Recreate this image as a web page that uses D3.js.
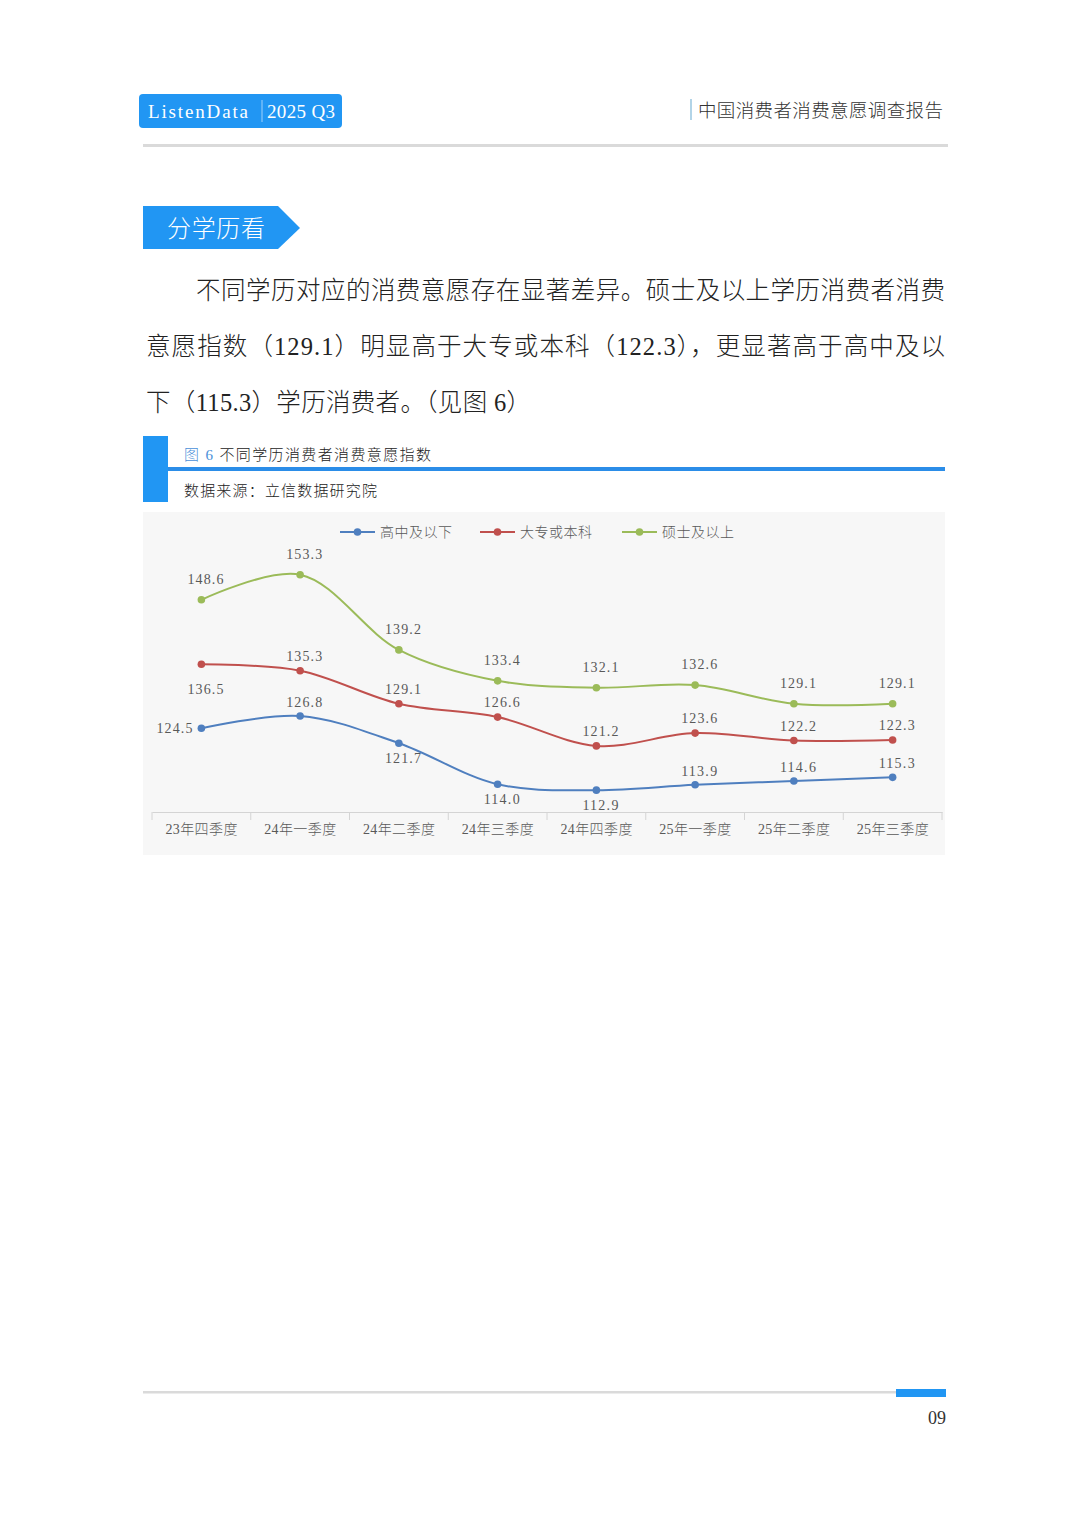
<!DOCTYPE html>
<html><head><meta charset="utf-8">
<script src="https://cdn.jsdelivr.net/npm/d3@7"></script>
<style>
html,body{margin:0;padding:0;background:#fff;}
svg{display:block;}
</style></head>
<body>
<svg id="page" width="1080" height="1527"></svg>
<script>
// ---------- DATA ----------
const categories = ["23年四季度","24年一季度","24年二季度","24年三季度","24年四季度","25年一季度","25年二季度","25年三季度"];
const seriesNames = ["高中及以下","大专或本科","硕士及以上"];
const highSchool = [124.5,126.8,121.7,114.0,112.9,113.9,114.6,115.3];
const college    = [136.5,135.3,129.1,126.6,121.2,123.6,122.2,122.3];
const master     = [148.6,153.3,139.2,133.4,132.1,132.6,129.1,129.1];
const labelPosHigh    = ["left","top","bottom","bottom","bottom","top","top","top"];
const labelPosCollege = ["bottom","top","top","top","top","top","top","top"];
const labelPosMaster  = ["top","top","top","top","top","top","top","top"];
const paragraphLines = [
  "不同学历对应的消费意愿存在显著差异。硕士及以上学历消费者消费",
  "意愿指数（129.1）明显高于大专或本科（122.3），更显著高于高中及以",
  "下（115.3）学历消费者。（见图 6）"
];

const serif = "'Liberation Serif','Noto Sans CJK SC',serif";
const cjk = "'Liberation Serif','Noto Sans CJK SC',sans-serif";
const BLUE = "#2196f3";
const svg = d3.select("#page");

// ---------- HEADER ----------
svg.append("rect").attr("x",139).attr("y",94).attr("width",203).attr("height",34).attr("rx",4).attr("fill",BLUE);
svg.append("text").attr("x",148).attr("y",118).attr("fill","#fff").attr("font-family",serif).attr("font-size",19)
  .attr("textLength",100).attr("lengthAdjust","spacing").text("ListenData");
svg.append("line").attr("x1",262).attr("x2",262).attr("y1",100).attr("y2",122).attr("stroke","#9fd0fb").attr("stroke-width",1);
svg.append("text").attr("x",267).attr("y",118).attr("fill","#fff").attr("font-family",serif).attr("font-size",19)
  .attr("textLength",68).attr("lengthAdjust","spacing").text("2025 Q3");
svg.append("line").attr("x1",691).attr("x2",691).attr("y1",99).attr("y2",120).attr("stroke","#7fb8d8").attr("stroke-width",1.2);
svg.append("text").attr("x",698).attr("y",117).attr("fill","#333").attr("font-family",cjk).attr("font-size",18.5)
  .attr("font-weight",300).attr("textLength",245).attr("lengthAdjust","spacing").text("中国消费者消费意愿调查报告");
svg.append("rect").attr("x",143).attr("y",144).attr("width",805).attr("height",3).attr("fill","#dadada");

// ---------- SECTION TAG ----------
svg.append("polygon").attr("points","143,206 278,206 300,228 278,249 143,249").attr("fill",BLUE);
svg.append("text").attr("x",167).attr("y",237).attr("fill","#fff").attr("font-family",cjk).attr("font-size",24)
  .attr("font-weight",300).attr("textLength",98).attr("lengthAdjust","spacing").text("分学历看");

// ---------- PARAGRAPH ----------
const paraY = [299,355,411];
const paraX = [196,146,146];
const paraW = [749,799,385];
paragraphLines.forEach((t,i)=>{
  svg.append("text").attr("x",paraX[i]).attr("y",paraY[i]).attr("fill","#222").attr("font-family",cjk)
    .attr("font-size",24.5).attr("font-weight",300).attr("textLength",paraW[i]).attr("lengthAdjust","spacing").text(t);
});

// ---------- FIGURE TITLE ----------
svg.append("rect").attr("x",143).attr("y",436).attr("width",25).attr("height",66).attr("fill",BLUE);
svg.append("rect").attr("x",168).attr("y",467).attr("width",777).attr("height",4).attr("fill","#2b8de8");
const ft = svg.append("text").attr("x",184).attr("y",460).attr("font-family",cjk).attr("font-size",15).attr("font-weight",300)
  .attr("textLength",247).attr("lengthAdjust","spacing");
ft.append("tspan").attr("fill","#4a90d9").text("图 6 ");
ft.append("tspan").attr("fill","#222").text("不同学历消费者消费意愿指数");
svg.append("text").attr("x",184).attr("y",496).attr("fill","#222").attr("font-family",cjk).attr("font-size",15)
  .attr("font-weight",300).attr("textLength",193).attr("lengthAdjust","spacing").text("数据来源：立信数据研究院");

// ---------- CHART ----------
svg.append("rect").attr("x",143).attr("y",512).attr("width",802).attr("height",343).attr("fill","#f7f7f7");

const x = d3.scaleBand().domain(categories).range([152,942]);
const y = d3.scaleLinear().domain([108.8,160]).range([812,539]);
const xc = d => x(d)+x.bandwidth()/2;

// axis
const gx = svg.append("g").attr("transform","translate(0,812)")
  .call(d3.axisBottom(x).tickSize(0).tickPadding(12));
gx.select(".domain").attr("stroke","#d4d4d4").attr("stroke-width",1.2);
gx.selectAll("text").attr("font-family",cjk).attr("font-size",14).attr("fill","#595959").attr("font-weight",300)
  .attr("textLength",72).attr("lengthAdjust","spacing");
// band-edge tick marks
const edges = categories.map(c=>x(c)).concat([x.range()[1]]);
svg.append("g").selectAll("line").data(edges).join("line")
  .attr("x1",d=>d).attr("x2",d=>d).attr("y1",812).attr("y2",820).attr("stroke","#d4d4d4").attr("stroke-width",1);

const series = [
  {name:seriesNames[0], values:highSchool, color:"#4f7fbf", pos:labelPosHigh, dyTop:-14, dyBot:15},
  {name:seriesNames[1], values:college,    color:"#c0504d", pos:labelPosCollege, dyTop:-15, dyBot:25},
  {name:seriesNames[2], values:master,     color:"#9bbb59", pos:labelPosMaster, dyTop:-21, dyBot:18}
];

const line = d3.line().x((d,i)=>xc(categories[i])).y(d=>y(d)).curve(d3.curveCatmullRom.alpha(0.5));

series.forEach(s=>{
  svg.append("path").attr("d",line(s.values)).attr("fill","none").attr("stroke",s.color).attr("stroke-width",2);
  svg.append("g").selectAll("circle").data(s.values).join("circle")
    .attr("cx",(d,i)=>xc(categories[i])).attr("cy",d=>y(d)).attr("r",3.8).attr("fill",s.color);
  svg.append("g").selectAll("text").data(s.values).join("text")
    .attr("x",(d,i)=>{const p=s.pos[i]; return p==="left"? xc(categories[i])-9 : xc(categories[i])+4;})
    .attr("y",(d,i)=>{const p=s.pos[i]; return y(d)+(p==="top"?s.dyTop:p==="bottom"?s.dyBot:0)+5;})
    .attr("text-anchor",(d,i)=>s.pos[i]==="left"?"end":"middle")
    .attr("font-family",serif).attr("font-size",14).attr("fill","#595959")
    .attr("textLength",36).attr("lengthAdjust","spacing")
    .text(d=>d.toFixed(1));
});

// legend
const legX = [340,480,622];
series.forEach((s,i)=>{
  const g = svg.append("g").attr("transform",`translate(${legX[i]},532)`);
  g.append("line").attr("x1",0).attr("x2",35).attr("y1",0).attr("y2",0).attr("stroke",s.color).attr("stroke-width",2);
  g.append("circle").attr("cx",17.5).attr("cy",0).attr("r",3.8).attr("fill",s.color);
  g.append("text").attr("x",40).attr("y",5).attr("font-family",cjk).attr("font-size",14).attr("font-weight",300)
    .attr("fill","#595959").attr("textLength",72).attr("lengthAdjust","spacing").text(s.name);
});

// ---------- FOOTER ----------
svg.append("rect").attr("x",143).attr("y",1391).attr("width",803).attr("height",2.5).attr("fill","#dadada");
svg.append("rect").attr("x",896).attr("y",1389).attr("width",50).attr("height",8).attr("fill",BLUE);
svg.append("text").attr("x",946).attr("y",1424).attr("text-anchor","end").attr("font-family",serif)
  .attr("font-size",18).attr("fill","#333").text("09");
</script>
</body></html>
